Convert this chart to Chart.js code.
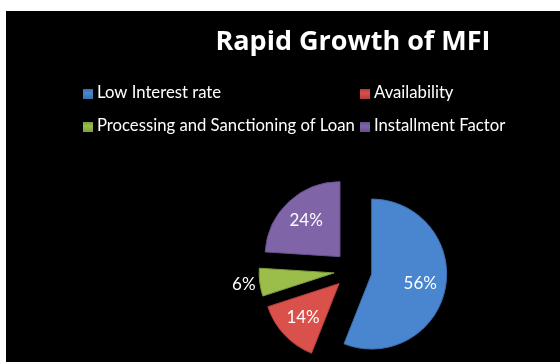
<!DOCTYPE html>
<html>
<head>
<meta charset="utf-8">
<title>Rapid Growth of MFI</title>
<script src="https://cdn.jsdelivr.net/npm/chart.js@4/dist/chart.umd.min.js"></script>
<style>
  html, body { margin: 0; padding: 0; background: #fff; }
  #wrap { width: 560px; height: 362px; }
</style>
</head>
<body>
<div id="wrap"><canvas id="mfiChart" width="560" height="362"></canvas></div>
<script>
'use strict';

// ***** DATA *****
const chartTitle = 'Rapid Growth of MFI';
const reasons = ['Low Interest rate', 'Availability', 'Processing and Sanctioning of Loan', 'Installment Factor'];
const shares = [56, 14, 6, 24];
const sliceColors = ['#4a86cf', '#da504a', '#9bbe4b', '#8064a8'];
const edgeColors = ['#3a6fae', '#b23e39', '#7d9c39', '#664f8a'];

const FONT = 'Lato, "Open Sans", sans-serif';

// ***** PLUGINS *****

// black slide panel, leaves a thin white strip top and left
const panelBackground = {
  id: 'panelBackground',
  beforeDraw(chart) {
    let ctx = chart.ctx;
    ctx.save();
    ctx.fillStyle = '#000';
    ctx.fillRect(6, 11, chart.width - 6, chart.height - 11);
    ctx.restore();
  }
};

// pulls every slice away from the centre along its middle angle
const explodeSlices = {
  id: 'explodeSlices',
  beforeDatasetDraw(chart, args, opts) {
    let ctx = chart.ctx;
    args.meta.data.forEach(arc => {
      let mid = (arc.startAngle + arc.endAngle) / 2;
      ctx.save();
      ctx.translate(Math.cos(mid) * opts.distance, Math.sin(mid) * opts.distance);
      arc.draw(ctx);
      ctx.restore();
    });
    return false;
  }
};

// percentage labels, small slices get theirs outside
const sliceLabels = {
  id: 'sliceLabels',
  afterDatasetsDraw(chart) {
    let ctx = chart.ctx;
    let meta = chart.getDatasetMeta(0);
    let explode = chart.options.plugins.explodeSlices.distance;
    ctx.save();
    ctx.fillStyle = '#fff';
    ctx.font = '17px ' + FONT;
    ctx.textAlign = 'center';
    ctx.textBaseline = 'middle';
    meta.data.forEach((arc, i) => {
      let value = shares[i];
      let mid = (arc.startAngle + arc.endAngle) / 2;
      let dist = explode + (value >= 10 ? arc.outerRadius * 0.66 : arc.outerRadius + 16);
      ctx.fillText(value + '%', arc.x + Math.cos(mid) * dist, arc.y + Math.sin(mid) * dist);
    });
    ctx.restore();
  }
};

// two column legend under the title
const gridLegend = {
  id: 'gridLegend',
  afterDraw(chart, args, opts) {
    let ctx = chart.ctx;
    let labels = chart.data.labels;
    let ds = chart.data.datasets[0];
    ctx.save();
    ctx.font = '16.7px ' + FONT;
    ctx.textBaseline = 'alphabetic';
    labels.forEach((label, i) => {
      let x = opts.columns[i % 2];
      let y = opts.rows[Math.floor(i / 2)];
      let grad = ctx.createLinearGradient(0, y - 9, 0, y + 1);
      grad.addColorStop(0, ds.borderColor[i]);
      grad.addColorStop(0.4, ds.backgroundColor[i]);
      grad.addColorStop(1, ds.borderColor[i]);
      ctx.fillStyle = grad;
      ctx.fillRect(x, y - 9, 10, 10);
      ctx.fillStyle = '#fff';
      ctx.fillText(label, x + 14, y);
    });
    ctx.restore();
  }
};

// ***** CHART *****
let ctx = document.getElementById('mfiChart').getContext('2d');

let chartObject = {
  type: 'pie',
  data: {
    labels: reasons,
    datasets: [{
      data: shares,
      backgroundColor: sliceColors,
      borderColor: edgeColors,
      borderWidth: 1,
      radius: 75
    }]
  },
  options: {
    responsive: false,
    animation: false,
    layout: {
      padding: { left: 146, right: 0, top: 0, bottom: 0 }
    },
    plugins: {
      title: {
        display: true,
        text: chartTitle,
        color: '#fff',
        font: { family: '"Open Sans", sans-serif', size: 27, weight: 'bold', lineHeight: 1.2 },
        padding: { top: 26, bottom: 120.6 }
      },
      legend: { display: false },
      tooltip: { enabled: false },
      explodeSlices: { distance: 19 },
      gridLegend: { columns: [83, 360], rows: [98, 131] }
    }
  },
  plugins: [panelBackground, explodeSlices, sliceLabels, gridLegend]
};

new Chart(ctx, chartObject);
</script>
</body>
</html>
